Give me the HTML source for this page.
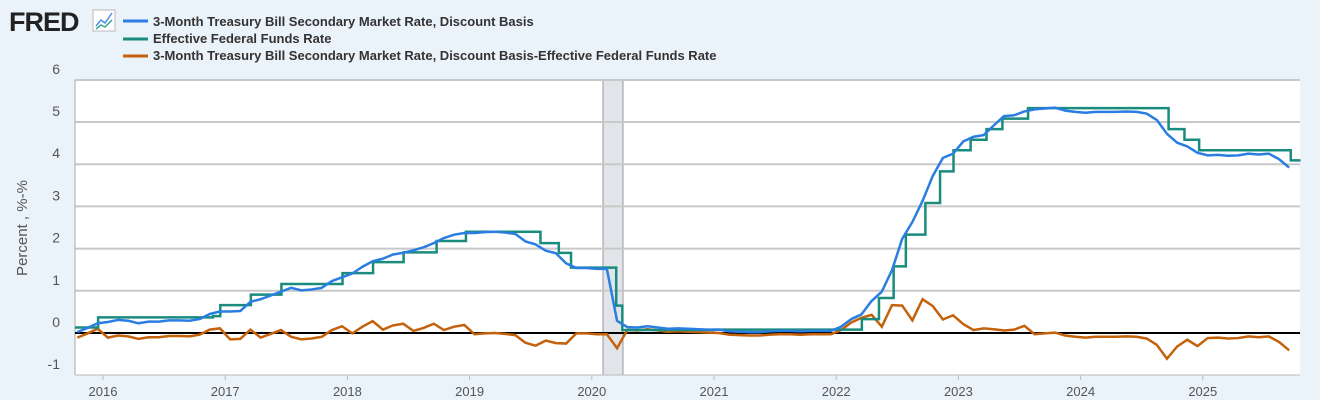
<!DOCTYPE html>
<html><head><meta charset="utf-8"><style>
body{margin:0;width:1320px;height:400px;background:#eaf2fa;font-family:"Liberation Sans",sans-serif;overflow:hidden}
</style></head><body>
<svg id="s" width="1320" height="400" xmlns="http://www.w3.org/2000/svg" style="position:absolute;left:0;top:0">
<text x="9" y="31" font-size="27" font-weight="bold" fill="#222" letter-spacing="-1">FRED</text>
<rect x="93" y="10" width="22" height="21" fill="#fff" stroke="#bbb"/>
<polyline points="96,26 101,20 105,23 112,13" fill="none" stroke="#4a90e2" stroke-width="1.5"/>
<polyline points="96,29 101,25 105,27 112,20" fill="none" stroke="#3aa58f" stroke-width="1.5"/>
<line x1="123" y1="21" x2="148" y2="21" stroke="#2a7de1" stroke-width="3"/>
<line x1="123" y1="39" x2="148" y2="39" stroke="#198c7e" stroke-width="3"/>
<line x1="123" y1="56" x2="148" y2="56" stroke="#c4610b" stroke-width="3"/>
<g font-size="13" font-weight="bold" fill="#333">
<text x="153" y="26">3-Month Treasury Bill Secondary Market Rate, Discount Basis</text>
<text x="153" y="43">Effective Federal Funds Rate</text>
<text x="153" y="60">3-Month Treasury Bill Secondary Market Rate, Discount Basis-Effective Federal Funds Rate</text>
</g>
<rect x="75" y="80" width="1225" height="295" fill="#fff"/>
<g id="g"></g>
<text transform="translate(27,228) rotate(-90)" text-anchor="middle" font-size="15" fill="#555">Percent , %-%</text>
</svg>
<script>
var g=document.getElementById('g'),h='';
function X(t){return 103+(t-2016)*122.2}function Y(v){return 333-v*42.2}
h+='<rect x="603" y="80" width="20" height="295" fill="#e1e4e8" stroke="#999"/>';
for(var v=-1;v<=6;v++){if(v>-1&&v<6&&v!=0)h+='<line x1="75" x2="1300" y1="'+Y(v)+'" y2="'+Y(v)+'" stroke="#c8c8c8" stroke-width="2"/>';
h+='<text x="60" y="'+(Y(v)-6)+'" font-size="14" fill="#555" text-anchor="end">'+v+'</text>';}
h+='<line x1="75" x2="1300" y1="80" y2="80" stroke="#c8c8c8" stroke-width="2"/>';
for(var y=2016;y<=2025;y++){h+='<line x1="'+X(y)+'" x2="'+X(y)+'" y1="375" y2="380" stroke="#bbb"/><text x="'+X(y)+'" y="396" font-size="13" fill="#555" text-anchor="middle">'+y+'</text>';}
h+='<line x1="75" x2="75" y1="80" y2="375" stroke="#aaa"/><line x1="75" x2="1300" y1="375" y2="375" stroke="#bbb"/>';
var st=[[2015.77,0.13],[2015.96,0.37],[2016.0,0.37],[2016.9,0.4],[2016.96,0.66],[2017.21,0.91],[2017.46,1.16],[2017.96,1.42],[2018.21,1.68],[2018.46,1.91],[2018.73,2.18],[2018.97,2.40],[2019.58,2.13],[2019.73,1.90],[2019.83,1.55],[2020.2,0.65],[2020.25,0.07],[2021.0,0.08],[2022.0,0.08],[2022.21,0.33],[2022.35,0.83],[2022.47,1.58],[2022.57,2.33],[2022.73,3.08],[2022.85,3.83],[2022.96,4.33],[2023.1,4.58],[2023.23,4.83],[2023.36,5.08],[2023.57,5.33],[2024.72,4.83],[2024.85,4.58],[2024.97,4.33],[2025.72,4.09],[2025.8,4.09]];
function ff(t){var r=st[0][1];for(var i=0;i<st.length;i++)if(st[i][0]<=t)r=st[i][1];return r}
var tb=[0.02,0.12,0.23,0.26,0.31,0.29,0.23,0.27,0.27,0.30,0.30,0.29,0.33,0.45,0.51,0.51,0.52,0.74,0.80,0.89,0.98,1.07,1.01,1.03,1.07,1.23,1.32,1.41,1.57,1.70,1.76,1.86,1.90,1.96,2.03,2.13,2.25,2.33,2.37,2.37,2.39,2.40,2.38,2.35,2.17,2.10,1.95,1.89,1.65,1.54,1.54,1.52,1.52,0.29,0.14,0.13,0.16,0.13,0.10,0.11,0.10,0.09,0.08,0.08,0.04,0.03,0.02,0.02,0.04,0.05,0.05,0.04,0.05,0.05,0.05,0.15,0.33,0.44,0.76,0.98,1.49,2.23,2.63,3.13,3.72,4.15,4.25,4.54,4.65,4.69,4.92,5.14,5.16,5.25,5.30,5.32,5.34,5.27,5.24,5.22,5.24,5.24,5.24,5.25,5.24,5.20,5.05,4.72,4.51,4.42,4.27,4.21,4.22,4.20,4.21,4.25,4.23,4.25,4.12,3.92];
h+='<line x1="75" x2="1300" y1="'+Y(0)+'" y2="'+Y(0)+'" stroke="#000" stroke-width="2"/>';
var p='',q='',s='';
for(var i=0;i<st.length;i++){var t=st[i][0],v=st[i][1];if(i>0)p+=X(t)+','+Y(st[i-1][1])+' ';p+=X(t)+','+Y(v)+' ';}
for(var i=0;i<tb.length;i++){var t=2015.75+i/12+0.04;q+=X(t)+','+Y(tb[i])+' ';s+=X(t)+','+Y(tb[i]-ff(t))+' ';}
h+='<polyline points="'+s+'" fill="none" stroke="#c4610b" stroke-width="2.5"/>';
h+='<polyline points="'+p+'" fill="none" stroke="#198c7e" stroke-width="2.5"/>';
h+='<polyline points="'+q+'" fill="none" stroke="#2a7de1" stroke-width="2.5" stroke-linejoin="round"/>';
g.innerHTML=h;
</script>
</body></html>
